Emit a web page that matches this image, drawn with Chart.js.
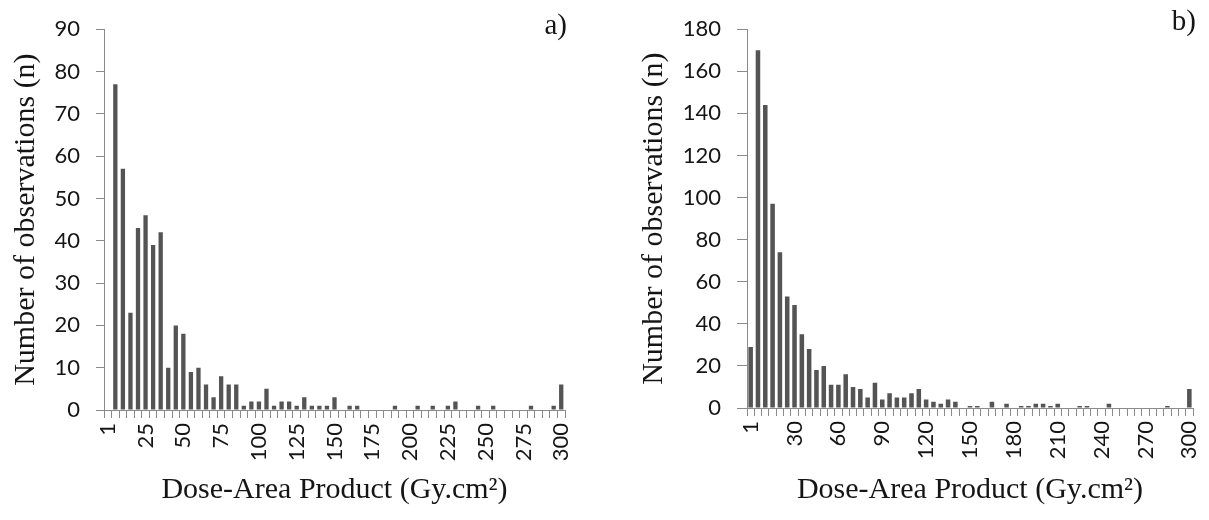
<!DOCTYPE html>
<html>
<head>
<meta charset="utf-8">
<script src="https://cdn.jsdelivr.net/npm/chart.js@4.4.1/dist/chart.umd.min.js"></script>
<style>
  html, body { margin: 0; padding: 0; background: #fff; }
  #wrap { position: relative; width: 1209px; height: 520px; }
  .panel { position: absolute; top: 0; }
  #panelA { left: 0; }
  #panelB { left: 600px; }
</style>
</head>
<body>
<div id="wrap">
  <div class="panel" id="panelA"><canvas id="chartA" width="600" height="520"></canvas></div>
  <div class="panel" id="panelB"><canvas id="chartB" width="609" height="520"></canvas></div>
</div>
<script>
// DAP bins (Gy.cm2), shared by both histograms
const dapBins = ['1','5','10','15','20','25','30','35','40','45','50','55','60','65','70','75','80','85','90','95',
  '100','105','110','115','120','125','130','135','140','145','150','155','160','165','170','175','180','185','190','195',
  '200','205','210','215','220','225','230','235','240','245','250','255','260','265','270','275','280','285','290','295','300'];

// a) observations per bin
const countsA = [0,77,57,23,43,46,39,42,10,20, 18,9,10,6,3,8,6,6,1,2, 2,5,1,2,2,1,3,1,1,1,
  3,0,1,1,0,0,0,0,1,0, 0,1,0,1,0,1,2,0,0,1, 0,1,0,0,0,0,1,0,0,1, 6];

// b) observations per bin
const countsB = [29,170,144,97,74,53,49,35,28,18, 20,11,11,16,10,9,5,12,4,7, 5,5,7,9,4,3,2,4,3,0,
  1,1,0,3,0,2,0,1,1,2, 2,1,2,0,0,1,1,0,0,2, 0,0,0,0,0,0,0,1,0,0, 9];

// labelled ticks on each x axis
const tickLabelsA = ['1','25','50','75','100','125','150','175','200','225','250','275','300'];
const tickLabelsB = ['1','30','60','90','120','150','180','210','240','270','300'];

const yTitle = 'Number of observations (n)';
const xTitle = 'Dose-Area Product (Gy.cm²)';

const axisGray = '#8a8a8a';
const textColor = '#151515';
const tickFont = { family: 'Lato', size: 22 };
const titleFont = { family: '"Liberation Serif", "Times New Roman", serif', size: 30 };

// "a)" / "b)" panel tag in the top right corner
const panelTag = {
  id: 'panelTag',
  afterDraw(chart, args, opts) {
    const ctx = chart.ctx;
    ctx.save();
    ctx.font = '29px "Liberation Serif", serif';
    ctx.fillStyle = textColor;
    ctx.textAlign = 'right';
    ctx.textBaseline = 'top';
    ctx.fillText(opts.text, opts.x, opts.y);
    ctx.restore();
  }
};

function histogram(id, o) {
  return new Chart(document.getElementById(id), {
    type: 'bar',
    data: {
      labels: dapBins,
      datasets: [{
        data: o.counts,
        backgroundColor: '#545454',
        borderWidth: 0,
        barPercentage: o.barPct,
        categoryPercentage: 1
      }]
    },
    options: {
      responsive: false,
      animation: false,
      layout: { padding: { left: 0, right: o.padRight, top: o.top, bottom: 0 } },
      plugins: {
        legend: { display: false },
        tooltip: { enabled: false },
        panelTag: o.tag
      },
      scales: {
        x: {
          grid: { drawOnChartArea: false, tickLength: 8, color: axisGray },
          border: { color: axisGray },
          ticks: {
            autoSkip: false,
            minRotation: 90,
            maxRotation: 90,
            padding: 5,
            color: textColor,
            font: tickFont,
            callback: function (v) {
              const lbl = this.getLabelForValue(v);
              return o.shown.includes(lbl) ? lbl : '';
            }
          },
          title: { display: true, text: xTitle, color: textColor, font: titleFont, padding: { top: 0, bottom: 12 } },
          afterFit: s => {
            s.height = 520 - o.bottom;
            // keep the plot edges where the layout padding puts them
            s.paddingLeft = 0;
            s.paddingRight = 0;
          }
        },
        y: {
          min: 0,
          max: o.max,
          grid: { drawOnChartArea: false, tickLength: o.yTick, color: axisGray },
          border: { color: axisGray },
          ticks: { stepSize: o.step, padding: 16, color: textColor, font: tickFont },
          title: { display: true, text: yTitle, color: textColor, font: titleFont, padding: { top: o.yTitlePad, bottom: 0 } },
          afterFit: s => { s.width = o.left; }
        }
      }
    },
    plugins: [panelTag]
  });
}

histogram('chartA', {
  counts: countsA, shown: tickLabelsA, max: 90, step: 10,
  left: 104, top: 27, bottom: 410, padRight: 35,
  yTick: 8, yTitlePad: 8, barPct: 0.57,
  tag: { text: 'a)', x: 567, y: 12 }
});

histogram('chartB', {
  counts: countsB, shown: tickLabelsB, max: 180, step: 20,
  left: 147, top: 22, bottom: 408, padRight: 16,
  yTick: 10, yTitlePad: 36, barPct: 0.62,
  tag: { text: 'b)', x: 596, y: 8 }
});
</script>
</body>
</html>
